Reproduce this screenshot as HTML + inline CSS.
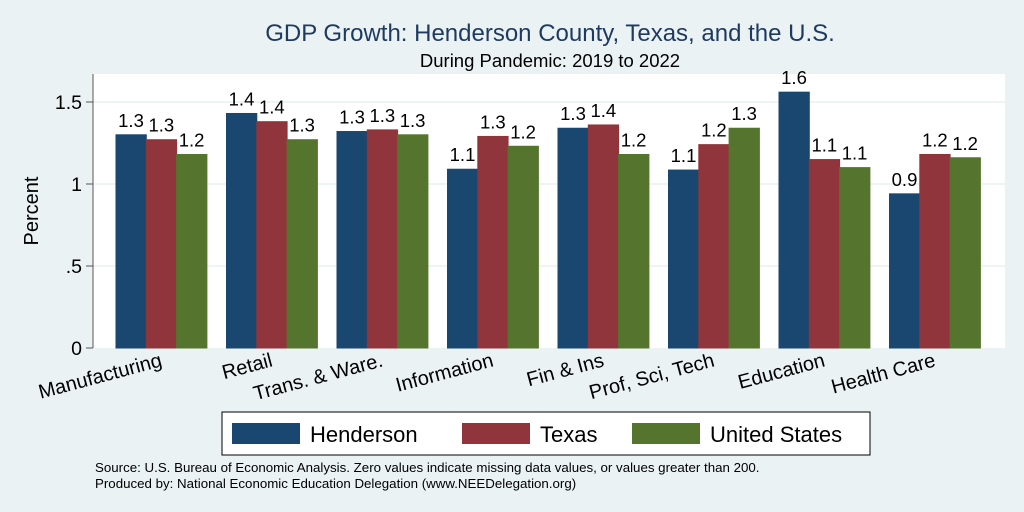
<!DOCTYPE html>
<html><head><meta charset="utf-8"><style>
body{margin:0;background:#eaf2f3;font-family:"Liberation Sans",sans-serif}
svg{display:block}
</style></head><body>
<svg id="c" width="1024" height="512" xmlns="http://www.w3.org/2000/svg">
<rect width="1024" height="512" fill="#eaf2f3"/>
<rect x="93" y="74" width="912" height="274" fill="#fff"/>
<text x="550" y="41" text-anchor="middle" font-size="24" fill="#1e3a5f">GDP Growth: Henderson County, Texas, and the U.S.</text>
<text x="550" y="67" text-anchor="middle" font-size="18.5" fill="#000">During Pandemic: 2019 to 2022</text>
<text transform="translate(38,211) rotate(-90)" text-anchor="middle" font-size="20">Percent</text>
<g id="grid"></g><g id="bars"></g><g id="xl"></g>
<line x1="93" y1="74" x2="93" y2="348" stroke="#555" stroke-width="1"/>
<rect x="222" y="412" width="648" height="43" fill="#fff" stroke="#000" stroke-width="1"/>
<rect x="232" y="423" width="68" height="21" fill="#1a476f"/>
<text x="310" y="442" font-size="22">Henderson</text>
<rect x="462" y="423" width="68" height="21" fill="#90353b"/>
<text x="540" y="442" font-size="22">Texas</text>
<rect x="632" y="423" width="68" height="21" fill="#55752f"/>
<text x="710" y="442" font-size="22">United States</text>
<text x="95" y="472" font-size="13.3">Source: U.S. Bureau of Economic Analysis. Zero values indicate missing data values, or values greater than 200.</text>
<text x="95" y="488" font-size="13.3">Produced by: National Economic Education Delegation (www.NEEDelegation.org)</text>
</svg>
<script>
const categories=["Manufacturing","Retail","Trans. & Ware.","Information","Fin & Ins","Prof, Sci, Tech","Education","Health Care"];
const henderson=[1.30,1.43,1.32,1.09,1.34,1.085,1.56,0.94];
const texas=[1.27,1.38,1.33,1.29,1.36,1.24,1.149,1.18];
const unitedStates=[1.18,1.27,1.30,1.23,1.18,1.34,1.10,1.16];
const yTicks=[0,0.5,1,1.5];
const yTickLabels=["0",".5","1","1.5"];
const NS="http://www.w3.org/2000/svg";
const y=v=>348-v*164;
const gx=i=>116+i*110.5;
function mk(t,a,p){const e=document.createElementNS(NS,t);for(const k in a)e.setAttribute(k,a[k]);p.appendChild(e);return e;}
const grid=document.getElementById('grid');
yTicks.forEach((t,i)=>{
 if(t>0){const g=mk('line',{x1:93,x2:1005,y1:y(t),y2:y(t),stroke:'#e8eff0','stroke-width':1.5},grid);
 
 }
 const tk=mk('line',{x1:86,x2:93,y1:y(t),y2:y(t),stroke:'#555'},grid);
 
 
 const l=mk('text',{x:82,y:y(t)+7,'text-anchor':'end','font-size':19.5},grid);l.textContent=yTickLabels[i];
 
 
});
const bars=document.getElementById('bars'),xl=document.getElementById('xl');
const series=[[henderson,'#1a476f','henderson'],[texas,'#90353b','texas'],[unitedStates,'#55752f','us']];
categories.forEach((c,i)=>{
 series.forEach(([d,col,n],j)=>{
  const x=gx(i)+j*30.3;
  const r=mk('rect',{x:x,y:y(d[i]),width:30.3,height:348-y(d[i]),fill:col,stroke:col},bars);
  
  
  const t=mk('text',{x:x+15,y:y(d[i])-8,'text-anchor':'middle','font-size':18.5},bars);t.textContent=d[i].toFixed(1);
  
  
 });
 const cx=gx(i)+47;
 const t=mk('text',{transform:`translate(${cx},${366}) rotate(-15)`,'text-anchor':'end','font-size':20},xl);t.textContent=c;
 
 
});
</script>
</body></html>
